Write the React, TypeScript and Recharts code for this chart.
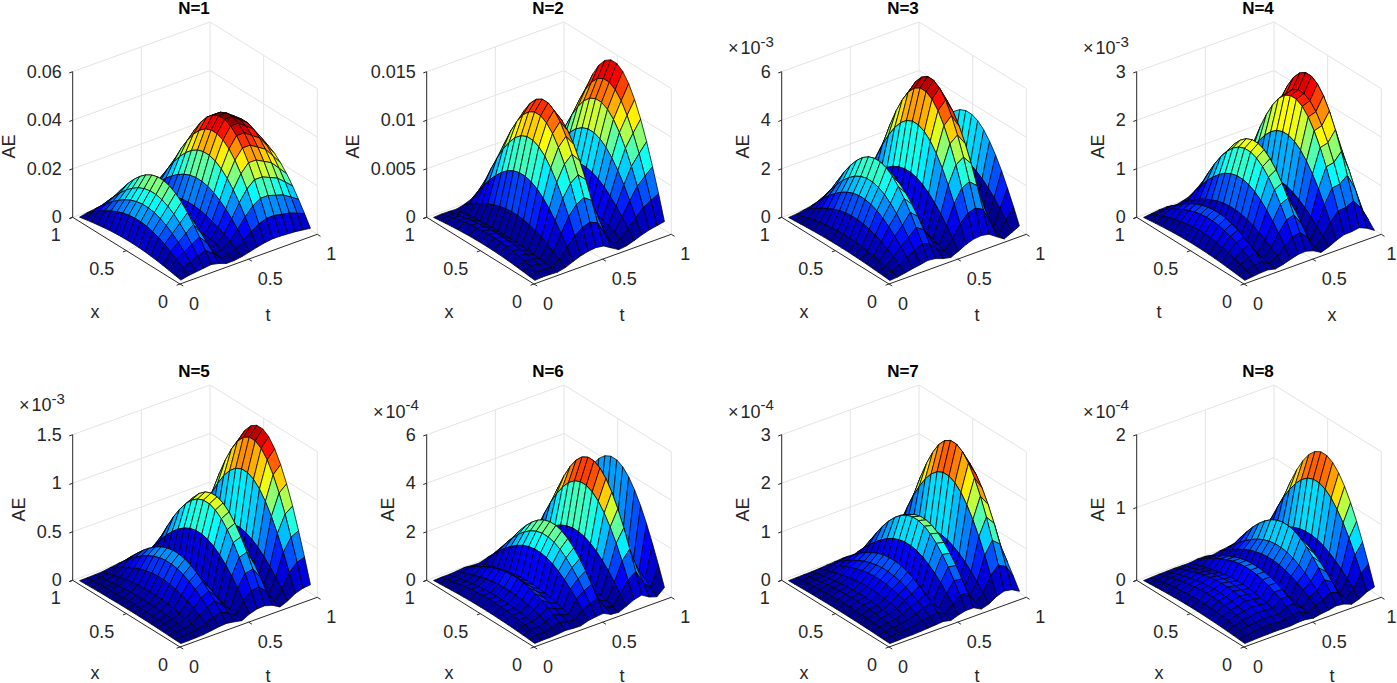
import { Scatter, ScatterChart, XAxis, YAxis } from "recharts";

const FONT = "'Liberation Sans', Arial, sans-serif";
const INK = "#262626";
const GRID = "#e4e4e4";

// Mesh nodes (18 x 18 cells per panel).
const X_NODES = [0.028, 0.083, 0.139, 0.194, 0.25, 0.306, 0.361, 0.417, 0.472, 0.528, 0.583, 0.639, 0.694, 0.75, 0.806, 0.861, 0.917, 0.972];
const T_NODES = [0.028, 0.083, 0.139, 0.194, 0.25, 0.306, 0.361, 0.417, 0.472, 0.528, 0.583, 0.639, 0.694, 0.75, 0.806, 0.861, 0.917, 0.972];

// The arches keep one shape across the mesh: relative height along x.
const X_SHAPE = [0.087, 0.259, 0.423, 0.574, 0.707, 0.819, 0.906, 0.966, 0.996, 0.996, 0.966, 0.906, 0.819, 0.707, 0.574, 0.423, 0.259, 0.087];

// Arch height per t node, read per panel in the units given by UNITS.
const AE_N1 = [3, 11, 15.6, 20, 24.6, 16.2, 3.6, 4.2, 9.6, 18.6, 28.2, 36, 40.8, 40.8, 38.4, 36, 31.2, 26.4];
const AE_N2 = [0.45, 1.05, 0.9, 0.45, 2.55, 6.3, 9.75, 12, 13.05, 11.7, 6.3, 0.9, 1.95, 4.95, 8.25, 11.1, 12.9, 14.55];
const AE_N3 = [0.12, 0.42, 1.08, 1.8, 2.4, 3.12, 2.64, 1.32, 0.6, 2.22, 4.08, 5.34, 5.7, 5.04, 2.52, 0.18, 1.98, 3.72];
const AE_N4 = [0.09, 0.3, 0.51, 0.6, 0.18, 0.57, 1.14, 1.65, 1.77, 1.2, 0.18, 0.81, 1.71, 2.4, 2.46, 2.76, 1.98, 0.81];
const AE_N5 = [0.015, 0.03, 0.06, 0.105, 0.24, 0.375, 0.45, 0.3, 0.12, 0.57, 0.855, 0.9, 0.63, 0.105, 0.495, 1.035, 1.335, 1.43];
const AE_N6 = [0.12, 0.36, 0.36, 0.6, 1.02, 0.72, 0.54, 1.74, 2.28, 2.64, 0.84, 0.48, 2.04, 3.84, 4.74, 2.52, 1.32, 4.44];
const AE_N7 = [0.03, 0.09, 0.15, 0.18, 0.27, 0.42, 0.54, 0.69, 0.3, 0.9, 1.365, 1.32, 0.36, 0.9, 2.055, 2.66, 2.34, 1.32];
const AE_N8 = [0.04, 0.1, 0.16, 0.18, 0.22, 0.2, 0.18, 0.34, 0.34, 0.12, 0.36, 0.5, 0.76, 0.6, 0.14, 0.52, 1.2, 1.54];

const SERIES = [AE_N1, AE_N2, AE_N3, AE_N4, AE_N5, AE_N6, AE_N7, AE_N8];
const UNITS = [1e-3, 1e-3, 1e-3, 1e-3, 1e-3, 1e-4, 1e-4, 1e-4];
const TITLES = ["N=1", "N=2", "N=3", "N=4", "N=5", "N=6", "N=7", "N=8"];

const Z_TICKS = [
  [0, 0.02, 0.04, 0.06],
  [0, 0.005, 0.01, 0.015],
  [0, 2, 4, 6],
  [0, 1, 2, 3],
  [0, 0.5, 1, 1.5],
  [0, 2, 4, 6],
  [0, 1, 2, 3],
  [0, 1, 2],
];
const Z_SCALE = [1, 1, 1e-3, 1e-3, 1e-3, 1e-4, 1e-4, 1e-4];
const EXPONENTS = [null, null, "-3", "-3", "-3", "-4", "-4", "-4"];
const AXIS_TICKS = [0, 0.5, 1];
const LEFT_AXIS_NAMES = ["x", "x", "x", "t", "x", "x", "x", "x"];
const RIGHT_AXIS_NAMES = ["t", "t", "t", "x", "t", "t", "t", "t"];

// Panel layout
const OFFSET_X = [0, 354, 709, 1064, 0, 354, 709, 1064];
const OFFSET_Y = [0, 0, 0, 0, 363, 363, 363, 363];
const AE_LABEL_X = [9, -1, 33.7, 33.7, 19.3, 33.7, 33.7, 33.7];
const EXP_LABEL_Y = [0, 0, 48, 48, 42, 48.7, 48.7, 48.7];
const NAME_LIFT = [0, 0, 0, 0, 1.5, 1.5, 1.5, 1.5];
const LAST_COLUMN_TICK_END = 332.5;
const PAD = 14;
const W = 372;
const H = 345;

// Projection of the 3D box: front corner and the axis vectors in chart units
const ORIGIN = [180, 284];
const EX = [-107.3, -66.7];
const ET = [137.3, -49.7];
const EZ = -145.6;

function jet(v: number) {
  const idx = Math.min(63, Math.max(0, Math.floor(v * 64)));
  const u = (idx + 1) / 64;
  const c = (d: number) =>
    Math.round(255 * Math.min(1, Math.max(0, 1.5 - Math.abs(4 * u - d))));
  return `rgb(${c(3)},${c(2)},${c(1)})`;
}

const NoDot = () => null;

function TextMark(props: any) {
  const { cx, cy, payload } = props;
  const { label, anchor, size, weight, rotate, color } = payload;
  return (
    <text
      x={cx}
      y={cy}
      textAnchor={anchor || "middle"}
      dominantBaseline="central"
      fontFamily={FONT}
      fontSize={size || 18}
      fontWeight={weight || "normal"}
      fill={color || INK}
      transform={rotate ? `rotate(${rotate} ${cx} ${cy})` : undefined}
    >
      {label}
    </text>
  );
}

function ExponentMark(props: any) {
  const { cx, cy, payload } = props;
  return (
    <text x={cx} y={cy} dominantBaseline="central" fontFamily={FONT} fontSize={18} fill={INK}>
      ×
      <tspan dx={2}>10</tspan>
      <tspan dy={-7.5} fontSize={15}>
        {payload.label}
      </tspan>
    </text>
  );
}

// Draws each consecutive pair of scaled points as one line segment.
const segmentLine = (color: string, width: number) => (props: any) => {
  const pts = props.points;
  let d = "";
  for (let k = 0; k + 1 < pts.length; k += 2) {
    d += `M${pts[k].x} ${pts[k].y}L${pts[k + 1].x} ${pts[k + 1].y}`;
  }
  return <path d={d} fill="none" stroke={color} strokeWidth={width} />;
};

// Draws the mesh faces far to near from the scaled vertex grid.
const facetLine = (surface: number[][], zMax: number) => (props: any) => {
  const pts = props.points;
  const n = X_NODES.length;
  const faces = [];
  for (let j = T_NODES.length - 2; j >= 0; j--) {
    for (let i = n - 2; i >= 0; i--) {
      const a = pts[j * n + i];
      const b = pts[j * n + i + 1];
      const c = pts[(j + 1) * n + i + 1];
      const d = pts[(j + 1) * n + i];
      faces.push(
        <polygon
          key={`${j}-${i}`}
          points={`${a.x},${a.y} ${b.x},${b.y} ${c.x},${c.y} ${d.x},${d.y}`}
          fill={jet(surface[j][i] / zMax)}
          stroke="#000"
          strokeWidth={0.75}
          strokeLinejoin="round"
        />
      );
    }
  }
  return <g>{faces}</g>;
};

function Panel({ index }: { index: number }) {
  const ticks = Z_TICKS[index].map((v) => v * Z_SCALE[index]);
  const zTop = ticks[ticks.length - 1];
  const project = (x: number, t: number, z: number) => ({
    px: ORIGIN[0] + x * EX[0] + t * ET[0],
    py: ORIGIN[1] + x * EX[1] + t * ET[1] + (z / zTop) * EZ,
  });

  const surface = T_NODES.map((_, j) =>
    X_SHAPE.map((s) => SERIES[index][j] * UNITS[index] * s)
  );
  const zMax = Math.max(...surface.flat());
  const vertices = T_NODES.flatMap((t, j) =>
    X_NODES.map((x, i) => project(x, t, surface[j][i]))
  );

  const grid: any[] = [];
  ticks.forEach((z) => {
    grid.push(project(1, 0, z), project(1, 1, z), project(1, 1, z), project(0, 1, z));
  });
  grid.push(project(1, 0.5, 0), project(1, 0.5, zTop));
  grid.push(project(1, 1, 0), project(1, 1, zTop));
  grid.push(project(0.5, 1, 0), project(0.5, 1, zTop));
  grid.push(project(0, 1, 0), project(0, 1, zTop));
  grid.push(project(0.5, 0, 0), project(0.5, 1, 0));
  grid.push(project(0, 0.5, 0), project(1, 0.5, 0));

  const axes: any[] = [
    project(1, 0, 0), project(1, 0, zTop),
    project(0, 0, 0), project(1, 0, 0),
    project(0, 0, 0), project(0, 1, 0),
  ];
  ticks.forEach((z) => axes.push(project(1, 0, z), project(1, -0.025, z)));
  AXIS_TICKS.forEach((v) => {
    axes.push(project(v, 0, 0), project(v, -0.025, 0));
    axes.push(project(0, v, 0), project(-0.03, v, 0));
  });

  const labels: any[] = [
    { px: 194, py: 8.5, label: TITLES[index], size: 17, weight: "bold", color: "#000" },
    { px: AE_LABEL_X[index], py: 146.5, label: "AE", rotate: -90 },
    { px: 95, py: 311.5 - NAME_LIFT[index], label: LEFT_AXIS_NAMES[index] },
    { px: 268, py: 314.5 - NAME_LIFT[index], label: RIGHT_AXIS_NAMES[index] },
  ];
  Z_TICKS[index].forEach((v, k) => {
    const p = project(1, 0, ticks[k]);
    labels.push({ px: p.px - 11, py: p.py, label: String(v), anchor: "end" });
  });
  AXIS_TICKS.forEach((v) => {
    const a = project(v, 0, 0);
    const b = project(0, v, 0);
    labels.push({ px: a.px - 12, py: a.py + 18, label: String(v), anchor: "end" });
    // the last column's "1" sits against the page edge
    const atEdge = v === 1 && OFFSET_X[index] === 1064;
    labels.push({
      px: atEdge ? LAST_COLUMN_TICK_END : b.px + 9,
      py: b.py + 19.5,
      label: String(v),
      anchor: atEdge ? "end" : "start",
    });
  });

  const exponent = EXPONENTS[index];

  return (
    <ScatterChart
      width={W}
      height={H}
      margin={{ top: 0, right: 0, bottom: 0, left: 0 }}
      style={{ position: "absolute", left: OFFSET_X[index] - PAD, top: OFFSET_Y[index] }}
    >
      <XAxis type="number" dataKey="px" domain={[-PAD, W - PAD]} hide />
      <YAxis type="number" dataKey="py" domain={[0, H]} reversed hide />
      <Scatter data={grid} shape={NoDot} line={segmentLine(GRID, 1)} isAnimationActive={false} />
      <Scatter data={axes} shape={NoDot} line={segmentLine(INK, 1)} isAnimationActive={false} />
      <Scatter
        data={vertices}
        shape={NoDot}
        line={facetLine(surface, zMax)}
        isAnimationActive={false}
      />
      <Scatter data={labels} shape={TextMark} isAnimationActive={false} />
      {exponent && (
        <Scatter
          data={[{ px: 19, py: EXP_LABEL_Y[index], label: exponent }]}
          shape={ExponentMark}
          isAnimationActive={false}
        />
      )}
    </ScatterChart>
  );
}

export default function App() {
  return (
    <div
      style={{
        position: "absolute",
        left: 0,
        top: 0,
        width: 1397,
        height: 683,
        overflow: "hidden",
        background: "#fff",
      }}
    >
      {TITLES.map((title, index) => (
        <Panel key={title} index={index} />
      ))}
    </div>
  );
}
